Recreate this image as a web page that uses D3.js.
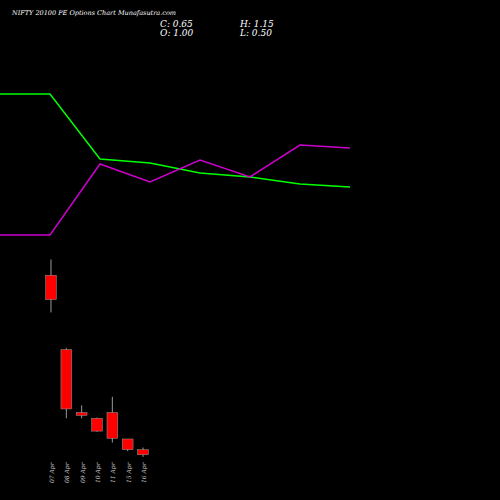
<!DOCTYPE html><html><head><script src="https://d3js.org/d3.v7.min.js"></script>
<style>body{margin:0;background:#000}</style></head><body><script>
const dates=["07 Apr","08 Apr","09 Apr","10 Apr","11 Apr","15 Apr","16 Apr"];
const opens=[13.2,8.0,3.6,3.2,3.6,1.75,1.0];
const highs=[14.3,8.1,4.1,3.25,4.7,1.75,1.15];
const lows=[10.6,3.2,3.2,2.25,1.5,0.9,0.5];
const closes=[11.5,3.85,3.4,2.3,1.8,1.0,0.65];
const lineX=[0,1,2,3,4,5,6,7];
const greenVals=[81.2,81.2,68.2,67.4,65.4,64.6,63.2,62.6];
const magentaVals=[53,53,67.2,63.6,68,64.6,71,70.4];

const svg=d3.select("body").append("svg").attr("width",500).attr("height",500).style("background","#000");
const xl=d3.scaleLinear().domain([0,7]).range([0,350]);
const yl=d3.scaleLinear().domain([0,100]).range([500,0]);
const line=d3.line().x((d,i)=>xl(lineX[i])).y(d=>yl(d));
svg.append("path").datum(greenVals).attr("d",line).attr("fill","none").attr("stroke","#00ff00").attr("stroke-width",1.5);
svg.append("path").datum(magentaVals).attr("d",line).attr("fill","none").attr("stroke","#cc00cc").attr("stroke-width",1.5);

const x=d3.scaleBand().domain(dates).range([41,153]).padding(0.3);
const y=d3.scaleLinear().domain([0,14.3]).range([464,259.5]);
const g=svg.append("g");
dates.forEach((d,i)=>{
 const cx=x(d)+x.bandwidth()/2;
 g.append("line").attr("x1",cx).attr("x2",cx).attr("y1",y(highs[i])).attr("y2",y(lows[i])).attr("stroke","#999");
 g.append("rect").attr("x",x(d)).attr("width",x.bandwidth())
  .attr("y",y(Math.max(opens[i],closes[i]))).attr("height",Math.max(1,Math.abs(y(opens[i])-y(closes[i]))))
  .attr("fill",closes[i]<opens[i]?"#ff0000":"#00cc00").attr("stroke","#999").attr("stroke-width",0.5);
 svg.append("text").attr("transform",`translate(${cx+3},483) rotate(-90)`).attr("fill","#ccc")
  .attr("font-family","DejaVu Serif").attr("font-style","italic").attr("font-size",6).text(d);
});
svg.append("text").attr("x",12).attr("y",15).attr("fill","#fff").attr("font-family","DejaVu Serif").attr("font-style","italic").attr("font-size",6.5).text("NIFTY 20100  PE Options  Chart Munafasutra.com");
const t=[["C: 0.65",160,27],["H: 1.15",240,27],["O: 1.00",160,36],["L: 0.50",240,36]];
t.forEach(a=>svg.append("text").attr("x",a[1]).attr("y",a[2]).attr("fill","#fff").attr("font-family","DejaVu Serif").attr("font-style","italic").attr("font-size",9).text(a[0]));
</script></body></html>
